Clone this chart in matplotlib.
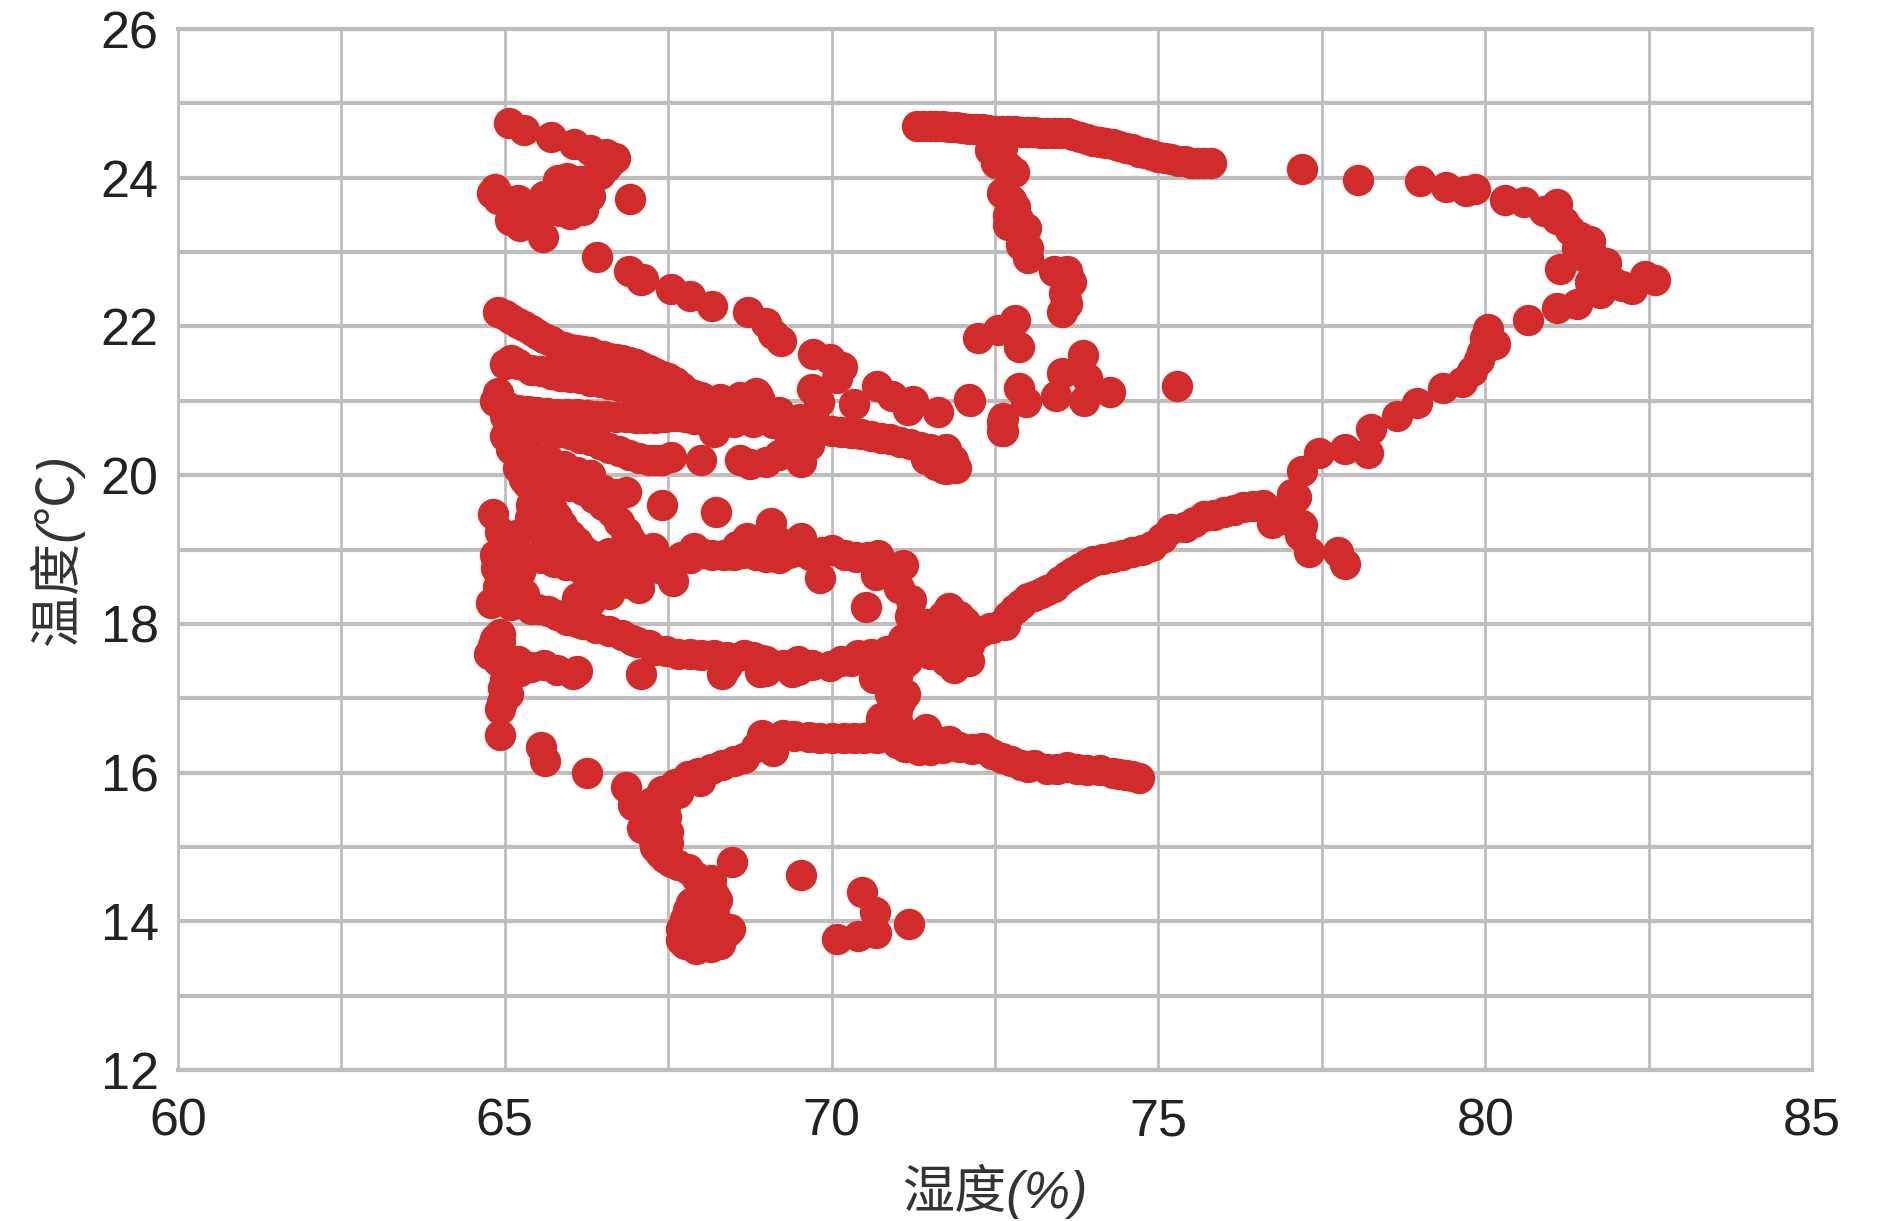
import matplotlib
matplotlib.use('Agg')
import matplotlib.pyplot as plt

plt.rcParams['font.family'] = ['Liberation Sans', 'Noto Sans CJK SC', 'DejaVu Sans']

# humidity, temperature, stroke by stroke
top_h = [71.3, 71.4, 71.6, 71.8, 72, 72.2, 72.4, 72.6, 72.8, 73, 73.2, 73.4, 73.6, 73.8, 74, 74.2, 74.4, 74.6, 74.8, 75, 75.2, 75.4, 75.6, 75.8,
         77.2, 78.05, 79, 79.4, 79.7, 79.85, 80.3, 80.6, 80.9, 81.1, 81.1, 81.3, 81.6, 81.5, 81.85, 81.7, 81.85, 82.1, 82.25, 82.45, 82.6, 81.15, 81.75, 81.4, 81.1, 80.65,
         80.05, 80.15, 79.95, 79.8, 79.65, 79.35, 78.95, 78.65, 78.25, 78.2, 77.85, 77.45, 77.2, 77.05,
         76.6, 76.3, 76, 75.7, 75.4, 75.2, 74.9, 74.6, 74.3, 74, 73.8, 73.6, 73.4, 73.2, 73, 72.8, 72.6, 72.3, 72.1,
         77.1, 76.74, 76.74, 77.16, 77.3, 77.75, 77.86, 77.2]
top_t = [24.7, 24.7, 24.7, 24.68, 24.67, 24.65, 24.64, 24.63, 24.63, 24.62, 24.6, 24.6, 24.6, 24.55, 24.5, 24.47, 24.42, 24.38, 24.33, 24.28, 24.25, 24.22, 24.2, 24.2,
         24.12, 23.97, 23.95, 23.87, 23.82, 23.85, 23.7, 23.67, 23.55, 23.65, 23.45, 23.3, 23.15, 22.95, 22.85, 22.7, 22.65, 22.55, 22.5, 22.68, 22.63, 22.77, 22.45, 22.3, 22.25, 22.08,
         21.97, 21.77, 21.65, 21.4, 21.25, 21.17, 20.97, 20.8, 20.62, 20.3, 20.35, 20.3, 20.05, 19.75,
         19.6, 19.57, 19.5, 19.45, 19.3, 19.27, 19.05, 18.97, 18.9, 18.85, 18.75, 18.65, 18.5, 18.42, 18.35, 18.2, 18, 17.9, 17.85,
         19.7, 19.52, 19.36, 19.2, 18.96, 18.96, 18.8, 19.33]

upper_h = [64.9, 65, 65.2, 65.4, 65.6, 65.8, 66, 66.2, 66.4, 66.6, 66.8, 67, 67.2, 67.4, 67.6, 67.8, 68, 68.3, 68.6, 68.85,
           65, 65.1, 65.2, 65.4, 65.7, 66, 66.3, 66.6, 66.9, 67.2, 67.5, 67.8,
           64.85, 64.9, 65, 65.2, 65.5, 65.8, 66.1, 66.4, 66.7, 67, 67.3, 67.6, 67.9, 68.2, 68.5, 68.8, 69.1, 69.4, 69.7, 70, 70.3, 70.6, 70.9, 71.2, 71.5, 71.75, 71.45, 71.6, 71.75, 71.9,
           65.15, 65.4, 65.7, 66, 66.3, 66.6, 66.9, 67.2, 67.4, 67.55, 68, 68.2, 68.6, 68.75, 69, 69.2, 69.53, 69.37, 69.65, 69.8, 69.7,
           69.72, 69.97, 70.16, 70.08, 70.35, 70.7, 70.92, 71.25, 71.17, 71.63, 72.1, 72.6, 72.6, 68.87,
           68.72, 69, 69.1, 69.23, 67.08, 67.54, 67.84, 68.17, 66.41, 66.9, 67.12]
upper_t = [22.2, 22.15, 22.05, 21.95, 21.85, 21.75, 21.7, 21.67, 21.62, 21.58, 21.55, 21.5, 21.42, 21.33, 21.25, 21.1, 21.05, 21.03, 21.05, 21.1,
           21.5, 21.55, 21.5, 21.42, 21.36, 21.32, 21.27, 21.22, 21.17, 21.13, 21.1, 21,
           21, 21.1, 20.95, 20.87, 20.85, 20.82, 20.82, 20.8, 20.78, 20.77, 20.77, 20.8, 20.75, 20.72, 20.72, 20.72, 20.7, 20.65, 20.63, 20.6, 20.57, 20.53, 20.48, 20.42, 20.35, 20.35, 20.22, 20.13, 20.08, 20.1,
           20.75, 20.68, 20.6, 20.55, 20.47, 20.37, 20.27, 20.2, 20.2, 20.25, 20.2, 20.58, 20.2, 20.15, 20.18, 20.27, 20.18, 20.49, 20.4, 20.98, 21.16,
           21.63, 21.56, 21.45, 21.3, 20.96, 21.2, 21.07, 21, 20.87, 20.85, 21.03, 20.71, 20.6, 21.07,
           22.19, 22.05, 21.9, 21.8, 22.63, 22.5, 22.41, 22.28, 22.93, 22.75, 22.64]

middle_h = [65, 65.17, 65.66, 66.1, 65.34, 66.3, 66.86, 67.4, 68.23, 64.82, 64.93, 65.17, 64.85, 64.87,
            65.55, 65.72, 65.88, 66.1, 66.32, 66.54, 66.1, 66.37, 66.64, 66.86, 66.97, 65.39, 65.6,
            65.12, 65.55, 65.94, 66.37, 66.7, 67.05, 67.57, 67.27, 67.24, 67.5, 67.9, 67.84, 68.17, 68.5, 68.7, 68.85, 69.07, 69.2, 69.2, 69.53, 69.67, 70, 70.38, 70.71, 70.68, 69.83, 70.52, 71.09, 71.03, 71.22]
middle_t = [20.53, 20.31, 20.22, 20.04, 19.89, 20, 19.78, 19.6, 19.5, 19.48, 19.24, 19.2, 18.93, 18.75,
            19.77, 19.55, 19.33, 19.1, 18.93, 18.79, 19.95, 19.69, 19.5, 19.24, 19.06, 19.42, 19.2,
            18.93, 18.88, 18.79, 18.7, 18.6, 18.48, 18.57, 19.02, 18.84, 18.79, 19.02, 18.88, 18.93, 18.93, 19.15, 18.93, 19.35, 19.1, 18.88, 19.15, 18.93, 19, 18.9, 18.93, 18.66, 18.61, 18.23, 18.79, 18.48, 18.32]

lower_h = [64.79, 65.23, 65.23, 65.12, 65.3, 66.1, 66.43, 65.66, 66.1, 66.6, 67.03, 67.46, 67.84, 68.2, 68.66, 68.93, 69, 68.33, 67.08, 69.48, 69.48, 69.97, 70.4, 70.84,
           64.93, 64.82, 64.76, 65, 65.23, 65.6, 66.04, 66.1, 64.98, 64.93, 64.93, 65.55, 65.61, 66.26,
           70.65, 71.12, 70.76, 71, 70.95,
           71.28, 71.6, 71.8, 72.04, 72.1, 71.88, 71.66, 71.38, 71.93, 71.6, 72.1, 72.42, 72.65]
lower_t = [18.28, 18.3, 18.7, 18.6, 18.4, 18.35, 18.52, 18.17, 18.03, 17.9, 17.76, 17.63, 17.6, 17.58, 17.58, 17.52, 17.36, 17.32, 17.32, 17.5, 17.38, 17.43, 17.58, 17.63,
           17.87, 17.72, 17.6, 17.45, 17.36, 17.45, 17.32, 17.36, 17.14, 16.85, 16.51, 16.34, 16.16, 16,
           17.27, 17.05, 16.74, 16.83, 17.18,
           17.9, 17.99, 18.21, 18.03, 17.72, 17.41, 17.59, 17.77, 17.9, 17.8, 17.5, 17.94, 17.99]

band_h = [68.93, 69.43, 69.83, 70.19, 70.49, 70.98, 71.44, 71.12, 71.33, 71.8, 72.3, 72.6, 72.9, 73.1, 73.3, 73.6, 73.9, 74.1, 74.3, 74.5, 74.7,
          69.1, 68.66, 68.33, 67.95]
band_t = [16.51, 16.49, 16.47, 16.47, 16.47, 16.51, 16.58, 16.34, 16.31, 16.42, 16.33, 16.2, 16.1, 16.1, 16.05, 16.08, 16.03, 16.03, 16, 15.97, 15.93,
          16.29, 16.2, 16.1, 16]

bottom_h = [67.98, 67.65, 67.38, 66.86, 66.96, 67.1, 67.47, 67.29, 67.38, 67.65, 67.93, 68.1, 68.24, 68, 67.75, 67.84, 68.2, 68.44, 67.75, 67.93, 68.3, 68.1,
            68.48, 69.53, 70.46, 70.66, 71.18, 70.68, 70.4, 70.08]
bottom_t = [15.89, 15.73, 15.65, 15.8, 15.57, 15.25, 15.4, 15.08, 14.92, 14.76, 14.6, 14.44, 14.28, 14.1, 14.03, 13.8, 13.88, 13.9, 13.7, 13.63, 13.7, 14,
            14.8, 14.62, 14.39, 14.13, 13.97, 13.84, 13.8, 13.76]

corner_h = [65.07, 65.3, 65.71, 66.06, 66.31, 66.55, 66.68, 66.46, 66.28, 66.1, 65.82, 65.91, 66.19, 66, 65.63, 65.5, 65.73, 64.81, 64.9, 65.27, 65.08, 65.23, 65.58, 66.92]
corner_t = [24.74, 24.64, 24.55, 24.45, 24.37, 24.32, 24.27, 24.05, 23.88, 23.8, 23.97, 23.72, 23.56, 23.51, 23.64, 23.51, 23.8, 23.8, 23.72, 23.64, 23.43, 23.35, 23.2, 23.72]

inner_h = [72.43, 72.52, 72.79, 72.61, 72.8, 72.7, 72.98, 73.01, 73.4, 73.67, 73.58, 73.53,
           72.24, 72.55, 72.8, 72.87, 72.11, 72.87, 72.98, 72.63, 72.63, 73.44, 73.53, 73.84, 73.9, 73.86, 74.26, 75.29]
inner_t = [24.37, 24.2, 24.08, 23.8, 23.6, 23.37, 23.32, 22.92, 22.75, 22.6, 22.35, 22.19,
           21.85, 21.95, 22.08, 21.73, 21, 21.17, 20.98, 20.77, 20.6, 21.06, 21.38, 21.61, 21.3, 21, 21.12, 21.2]

# more readings where the marks overlap into solid bands
dense_upper = [(65.1, 22.1), (65.3, 22), (65.5, 21.9), (65.7, 21.8), (65.9, 21.72), (66.1, 21.68), (66.3, 21.65), (66.5, 21.6),
               (66.7, 21.56), (66.9, 21.52), (67.1, 21.46), (67.3, 21.38), (67.5, 21.3), (67.7, 21.18), (67.9, 21.08),
               (66, 21.5), (66.4, 21.45), (66.8, 21.35), (67.2, 21.25), (67.6, 21.1), (68.2, 20.95), (68.6, 20.9), (69, 20.85),
               (68, 20.9), (68.4, 20.85), (68.8, 20.85), (69.2, 20.85), (69.5, 20.75), (68.9, 21), (68.5, 21),
               (69.85, 20.62), (70.15, 20.58), (70.45, 20.55), (70.75, 20.5), (71.05, 20.45), (71.35, 20.38), (71.55, 20.2), (71.65, 20.28), (71.7, 20.1), (71.85, 20.2),
               (65, 20.8), (65.05, 20.65), (65.1, 20.5), (65.1, 20.35), (65.25, 20.25), (65.4, 20.27), (65.9, 20.12), (66.3, 20), (65.2, 20.1), (65.3, 19.95), (65.5, 20), (65.8, 19.95), (66, 19.85), (66.2, 19.8), (66.5, 19.8), (66.7, 19.75),
               (65.25, 20.72), (65.55, 20.64), (65.85, 20.58), (66.15, 20.5), (66.45, 20.42), (66.75, 20.32), (67.05, 20.23), (67.3, 20.2),
               (65.55, 21.4), (65.85, 21.34), (66.15, 21.3), (66.45, 21.25), (66.75, 21.2), (67.05, 21.15), (67.35, 21.1), (67.65, 21.05),
               (65.35, 20.86), (65.65, 20.83), (65.95, 20.82), (66.25, 20.81), (66.55, 20.79), (66.85, 20.78), (67.15, 20.77), (67.45, 20.78), (67.75, 20.78), (68.05, 20.74), (68.35, 20.72)]

dense_middle = [(66.25, 19.82), (66.5, 19.6), (66.75, 19.37), (66.9, 19.15), (65.63, 19.66), (65.8, 19.44), (65.99, 19.2), (66.2, 19), (66.43, 18.85),
                (65.4, 19.6), (65.5, 19.4), (65.7, 19.25), (65.9, 19.05), (66.1, 18.9), (65.55, 19.3), (65.75, 19.1), (65.95, 18.95),
                (65.3, 18.9), (65.75, 18.83), (66.15, 18.75), (66.55, 18.65), (66.9, 18.55), (66.6, 18.95), (66.8, 18.85), (67, 18.8), (67.1, 18.95), (66.9, 19), (67.35, 18.75),
                (67.7, 18.9), (68, 18.95), (68.35, 18.93), (68.65, 18.95), (69, 18.9), (69.35, 18.95), (69.45, 18.98), (69.85, 18.97), (70.2, 18.92), (70.55, 18.9), (70.8, 18.8), (69, 19.1), (68.55, 19.05),
                (66.2, 18.4), (66.3, 18.3), (66.5, 18.45), (66.7, 18.55), (66.6, 18.4), (65, 18.55), (64.9, 18.5), (65, 18.35), (65.1, 18.25), (65.4, 18.2), (65.5, 18.2), (65.8, 18.12), (65.95, 18.05),
                (65, 18.95), (65, 19.1), (65.1, 18.8), (65.1, 19.05), (64.95, 18.7)]

dense_lower = [(66.2, 18), (66.4, 17.95), (66.8, 17.85), (66.95, 17.78), (67.2, 17.72), (67.3, 17.65), (67.65, 17.6), (68, 17.58), (68.4, 17.55), (68.8, 17.55), (69, 17.5), (69.25, 17.45), (69.7, 17.45), (70.15, 17.5), (70.6, 17.6), (71, 17.68), (71.1, 17.7),
               (68.4, 17.43), (68.9, 17.35), (69.4, 17.35), (70.3, 17.5),
               (64.85, 17.8), (64.93, 17.75), (64.85, 17.6), (64.9, 17.5), (65, 17.55), (65.1, 17.35), (65.4, 17.42), (65.8, 17.38), (65, 17.25), (65.05, 17.05), (64.95, 16.95), (65.2, 17.5),
               (71.25, 17.7), (71.45, 18), (71.7, 18.1), (71.95, 18.1), (71.5, 17.6), (71.75, 17.5), (72, 17.6), (71.95, 17.7), (71.7, 17.7), (71.8, 17.95), (71.4, 17.65), (72.2, 17.85), (71.2, 17.85), (71.1, 17.8), (71.5, 17.85),
               (71.2, 18.1), (71.15, 17.5), (71.05, 17.4), (71, 17.3), (70.9, 17.05), (71.05, 16.95), (71, 16.7), (70.85, 16.6), (70.7, 16.55),
               (76.45, 19.58), (76.15, 19.53), (75.85, 19.47), (75.55, 19.37), (75.05, 19.15), (74.75, 19), (74.45, 18.93), (74.15, 18.87), (73.9, 18.8), (73.7, 18.7), (73.5, 18.58), (73.3, 18.45), (73.1, 18.38), (72.9, 18.27), (72.7, 18.1), (72.45, 17.95), (76.9, 19.5), (77, 19.4)]

dense_band = [(69.25, 16.5), (69.65, 16.48), (70, 16.47), (70.35, 16.47), (70.7, 16.47), (71.2, 16.5), (71.55, 16.45), (71.5, 16.3), (71.7, 16.33), (71.95, 16.35), (72.15, 16.32), (72.45, 16.25), (72.75, 16.15), (73, 16.08), (73.45, 16.05), (73.75, 16.05), (74.4, 15.98), (74.6, 15.95), (71, 16.4),
              (68.85, 16.35), (69, 16.45), (68.5, 16.15), (68.15, 16.05), (67.8, 15.95), (67.6, 15.85), (67.4, 15.75),
              (67.2, 15.35), (67.25, 15.6), (67.4, 15.3), (67.5, 15.2), (67.45, 15.55), (67.5, 15.05), (67.3, 15), (67.45, 14.85), (67.55, 14.8), (67.8, 14.7), (68, 14.55), (68.15, 14.55), (68.2, 14.35), (67.85, 14.25), (68, 14.3), (67.8, 14.15),
              (67.7, 13.9), (67.9, 13.9), (68.1, 13.8), (68.2, 14.1), (68.3, 13.95), (68.05, 14.15), (67.85, 14), (67.7, 13.75), (68.4, 13.85), (68.15, 13.65), (67.95, 13.7), (68.3, 13.85), (68.05, 13.9)]

dense_top = [(65.9, 23.9), (66, 23.85), (66.15, 23.95), (66.2, 23.7), (66.35, 24), (66.3, 23.75), (65.75, 23.6), (65.85, 23.55), (66.1, 23.6), (66, 23.65), (65.6, 23.75), (65.95, 24), (66.05, 23.95), (65.1, 23.55), (65.2, 23.7), (65, 23.7), (64.85, 23.85), (66.6, 24.2), (66.4, 24.3), (66.55, 24.15),
             (81.2, 23.4), (81.45, 23.2), (81.4, 23.05), (81.65, 22.95), (81.75, 22.8), (81.6, 22.6), (81.7, 22.55), (81.95, 22.6), (79.9, 21.55), (80, 21.85),
             (72.5, 24.3), (72.45, 24.5), (72.6, 24.4), (72.7, 24.15), (72.7, 23.5), (72.85, 23.45), (72.9, 23.1), (73, 23.05), (72.75, 23.7), (73.6, 22.75), (73.55, 22.45), (73.6, 22.3),
             (71.5, 24.7), (71.7, 24.7), (71.9, 24.68), (72.1, 24.66), (72.3, 24.65), (72.5, 24.63), (72.7, 24.63), (72.9, 24.62), (73.1, 24.61), (73.3, 24.6), (73.5, 24.6), (73.7, 24.58), (73.9, 24.52), (74.1, 24.48), (74.3, 24.45), (74.5, 24.4), (74.7, 24.35), (74.9, 24.3), (75.1, 24.27), (75.3, 24.23), (75.5, 24.2), (75.7, 24.2)]

dense = dense_upper + dense_middle + dense_lower + dense_band + dense_top

humidity = top_h + upper_h + middle_h + lower_h + band_h + bottom_h + corner_h + inner_h + [p[0] for p in dense]
temperature = top_t + upper_t + middle_t + lower_t + band_t + bottom_t + corner_t + inner_t + [p[1] for p in dense]

x_ticks = [60, 65, 70, 75, 80, 85]
x_minor = [62.5, 67.5, 72.5, 77.5, 82.5]
y_ticks = [12, 14, 16, 18, 20, 22, 24, 26]
y_minor = [13, 15, 17, 19, 21, 23, 25]

fig = plt.figure(figsize=(18.83, 12.21), dpi=100)
ax = fig.add_axes([178 / 1883, 151 / 1221, 1634 / 1883, 1041 / 1221])

ax.scatter(humidity, temperature, s=510, color='#d12c2b', linewidths=0, zorder=3)

ax.set_xlim(60, 85)
ax.set_ylim(12, 26)
ax.set_xticks(x_ticks)
ax.set_xticks(x_minor, minor=True)
ax.set_yticks(y_ticks)
ax.set_yticks(y_minor, minor=True)
ax.tick_params(which='both', length=0)
ax.tick_params(axis='x', labelsize=37.5, labelcolor='#222222', pad=20)
ax.tick_params(axis='y', labelsize=37.5, labelcolor='#222222', pad=14)
ax.grid(axis='x', which='both', color='#bdbdbd', linewidth=2.0)
ax.grid(axis='y', which='both', color='#bdbdbd', linewidth=3.0)
ax.set_axisbelow(True)
for side in ax.spines:
    ax.spines[side].set_color('#bdbdbd')
    ax.spines[side].set_linewidth(2.0)
ax.spines['bottom'].set_linewidth(3.0)
ax.spines['top'].set_linewidth(3.0)

ax.set_xlabel('湿度(%)', fontsize=37.5, style='italic', color='#333333', labelpad=12)
ax.set_ylabel('温度(℃)', fontsize=37.5, style='italic', color='#333333', labelpad=12)

plt.savefig('out.png', dpi=100)
